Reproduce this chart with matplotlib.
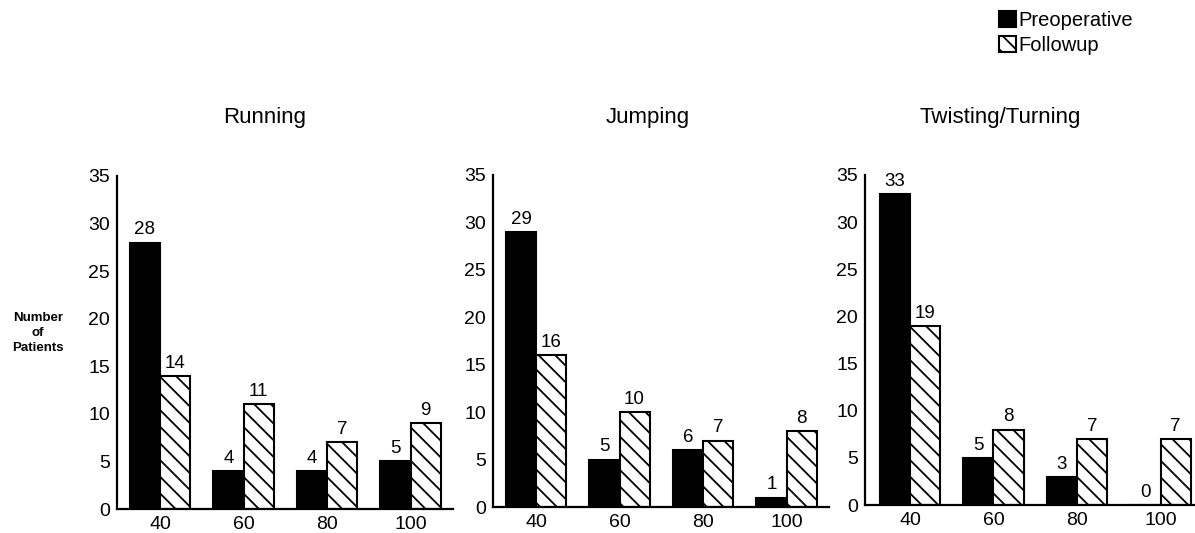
import numpy as np
import matplotlib
matplotlib.use("Agg")
import matplotlib.pyplot as plt

plt.rcParams['font.family'] = ['Liberation Sans', 'DejaVu Sans']
plt.rcParams['hatch.linewidth'] = 1.3

# data
categories = ['40', '60', '80', '100']
panel_titles = ['Running', 'Jumping', 'Twisting/Turning']
preoperative = [
    [28, 4, 4, 5],
    [29, 5, 6, 1],
    [33, 5, 3, 0],
]
followup = [
    [14, 11, 7, 9],
    [16, 10, 7, 8],
    [19, 8, 7, 7],
]
yticks = [0, 5, 10, 15, 20, 25, 30, 35]

W, H = 1195, 533
fig = plt.figure(figsize=(W / 100, H / 100), dpi=100)

# axes boxes in pixels: left, zero-line y, top y, right, x of first group centre
boxes = [
    (117, 509, 176, 453, 160),
    (493, 507, 175, 829, 536),
    (865, 505, 175, 1195, 910),
]
step = 83.5
bw = 0.36

for i, (l, b, t, r, c0) in enumerate(boxes):
    ax = fig.add_axes([l / W, (H - b) / H, (r - l) / W, (b - t) / H])
    x = np.arange(len(categories))
    b1 = ax.bar(x - bw / 2, preoperative[i], bw, color='black', edgecolor='black',
                linewidth=1.5, label='Preoperative')
    b2 = ax.bar(x + bw / 2, followup[i], bw, color='white', edgecolor='black',
                linewidth=1.5, hatch='\\\\', label='Followup')
    for bars, vals in ((b1, preoperative[i]), (b2, followup[i])):
        for rect, v in zip(bars, vals):
            ax.annotate(str(v), (rect.get_x() + rect.get_width() / 2, v),
                        xytext=(0, 3), textcoords='offset points',
                        ha='center', va='bottom', fontsize=13.5)
    ax.set_xlim(-(c0 - l) / step, (r - c0) / step)
    ax.set_ylim(0, 35)
    ax.set_xticks(x)
    ax.set_xticklabels(categories, fontsize=14)
    ax.set_yticks(yticks)
    ax.set_yticklabels([str(v) for v in yticks], fontsize=14)
    ax.tick_params(length=0, pad=5)
    for s in ('top', 'right'):
        ax.spines[s].set_visible(False)
    for s in ('left', 'bottom'):
        ax.spines[s].set_linewidth(1.6)
    ax.set_facecolor('none')
    if i == 0:
        handles = [b1, b2]

title_x = [265, 648, 1000]
for tx, title in zip(title_x, panel_titles):
    fig.text(tx / W, 1 - 123 / H, title, ha='center', va='baseline', fontsize=16)

fig.text(38 / W, 1 - 333 / H, 'Number\nof\nPatients', ha='center', va='center',
         multialignment='center', fontsize=9.5, fontweight='bold', linespacing=1.3)

fig.legend(handles=handles, labels=['Preoperative', 'Followup'],
           loc='upper left', bbox_to_anchor=(999 / W, 1 - 11 / H),
           frameon=False, fontsize=14.5, handlelength=0.85, handleheight=0.8,
           handletextpad=0.1, labelspacing=0.3, borderpad=0, borderaxespad=0)

fig.savefig('out.png', dpi=100, facecolor='white')
